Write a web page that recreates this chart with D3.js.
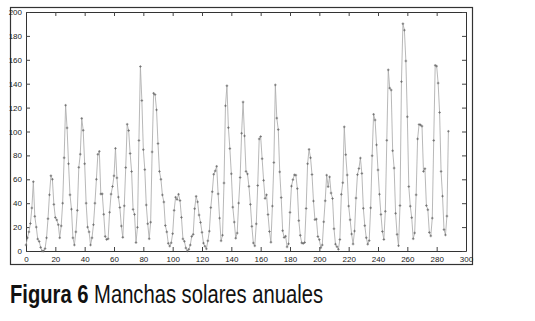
<!DOCTYPE html>
<html>
<head>
<meta charset="utf-8">
<script src="https://cdn.jsdelivr.net/npm/d3@7"></script>
<style>
  body { margin: 0; background: #fff; }
  svg { display: block; }
  .tick text { font-family: "Liberation Sans", Arial, sans-serif; font-size: 8px; fill: #222; }
</style>
</head>
<body>
<div id="chart"></div>
<script>
// yearly sunspot numbers, index 0 = 1700
var sunspots = [
  5, 11, 16, 23, 36, 58, 29, 20, 10, 8,
  3, 0, 0, 2, 11, 27, 47, 63, 60, 39,
  28, 26, 22, 11, 21, 40, 78, 122, 103, 73,
  47, 35, 11, 5, 16, 34, 70, 81, 111, 101,
  73, 40, 20, 16, 5, 11, 22, 40, 60, 80.9,
  83.4, 47.7, 47.8, 30.7, 12.2, 9.6, 10.2, 32.4, 47.6, 54,
  62.9, 85.9, 61.2, 45.1, 36.4, 20.9, 11.4, 37.8, 69.8, 106.1,
  100.8, 81.6, 66.5, 34.8, 30.6, 7, 19.8, 92.5, 154.4, 125.9,
  84.8, 68.1, 38.5, 22.8, 10.2, 24.1, 82.9, 132, 130.9, 118.1,
  89.9, 66.6, 60, 46.9, 41, 21.3, 16, 6.4, 4.1, 6.8,
  14.5, 34, 45, 43.1, 47.5, 42.2, 28.1, 10.1, 8.1, 2.5,
  0, 1.4, 5, 12.2, 13.9, 35.4, 45.8, 41.1, 30.1, 23.9,
  15.6, 6.6, 4, 1.8, 8.5, 16.6, 36.3, 49.6, 64.2, 67,
  70.9, 47.8, 27.5, 8.5, 13.2, 56.9, 121.5, 138.3, 103.2, 85.7,
  64.6, 36.7, 24.2, 10.7, 15, 40.1, 61.5, 98.5, 124.7, 96.3,
  66.6, 64.5, 54.1, 39, 20.6, 6.7, 4.3, 22.7, 54.8, 93.8,
  95.8, 77.2, 59.1, 44, 47, 30.5, 16.3, 7.3, 37.6, 74,
  139, 111.2, 101.6, 66.2, 44.7, 17, 11.3, 12.4, 3.4, 6,
  32.3, 54.3, 59.7, 63.7, 63.5, 52.2, 25.4, 13.1, 6.8, 6.3,
  7.1, 35.6, 73, 85.1, 78, 64, 41.8, 26.2, 26.7, 12.1,
  9.5, 2.7, 5, 24.4, 42, 63.5, 53.8, 62, 48.5, 43.9,
  18.6, 5.7, 3.6, 1.4, 9.6, 47.4, 57.1, 103.9, 80.6, 63.6,
  37.6, 26.1, 14.2, 5.8, 16.7, 44.3, 63.9, 69, 77.8, 64.9,
  35.7, 21.2, 11.1, 5.7, 8.7, 36.1, 79.7, 114.4, 109.6, 88.8,
  67.8, 47.5, 30.6, 16.3, 9.6, 33.2, 92.6, 151.6, 136.3, 134.7,
  83.9, 69.4, 31.5, 13.9, 4.4, 38, 141.7, 190.2, 184.8, 159,
  112.3, 53.9, 37.5, 27.9, 10.2, 15.1, 47, 93.8, 105.9, 105.5,
  104.5, 66.6, 68.9, 38, 34.5, 15.5, 12.6, 27.5, 92.5, 155.4,
  154.7, 140.5, 115.9, 66.6, 45.9, 17.9, 13.4, 29.2, 100.2
];
var xTicks = [0, 20, 40, 60, 80, 100, 120, 140, 160, 180, 200, 220, 240, 260, 280, 300];
var yTicks = [0, 20, 40, 60, 80, 100, 120, 140, 160, 180, 200];
var captionBold = "Figura 6";
var captionText = " Manchas solares anuales";

var width = 535, height = 321;
var svg = d3.select("#chart").append("svg")
    .attr("width", width)
    .attr("height", height);

// outer frame
svg.append("rect")
    .attr("x", 10.5).attr("y", 7.5)
    .attr("width", 462).attr("height", 257)
    .attr("fill", "none")
    .attr("stroke", "#333")
    .attr("stroke-width", 1.2);

var x = d3.scaleLinear().domain([0, 300]).range([26, 466]);
var y = d3.scaleLinear().domain([0, 200]).range([251, 12]);

// axes, ticks pointing inward like matlab
svg.append("g")
    .attr("transform", "translate(0," + y(0) + ")")
    .call(d3.axisBottom(x).tickValues(xTicks).tickSize(-4).tickPadding(5).tickSizeOuter(0));
svg.append("g")
    .attr("transform", "translate(0," + y(200) + ")")
    .call(d3.axisTop(x).tickValues(xTicks).tickSize(-4).tickFormat("").tickSizeOuter(0));
svg.append("g")
    .attr("transform", "translate(" + x(0) + ",0)")
    .call(d3.axisLeft(y).tickValues(yTicks).tickSize(-4).tickPadding(4).tickSizeOuter(0));
svg.append("g")
    .attr("transform", "translate(" + x(300) + ",0)")
    .call(d3.axisRight(y).tickValues(yTicks).tickSize(-4).tickFormat("").tickSizeOuter(0));
svg.selectAll(".domain").attr("stroke", "#333");
svg.selectAll(".tick line").attr("stroke", "#444");

var line = d3.line()
    .x(function(d, i) { return x(i); })
    .y(function(d) { return y(d); });

svg.append("path")
    .datum(sunspots)
    .attr("d", line)
    .attr("fill", "none")
    .attr("stroke", "#b0b0b0")
    .attr("stroke-width", 0.9);

// little + markers
svg.append("g").selectAll("path")
    .data(sunspots)
    .enter().append("path")
    .attr("d", function(d, i) {
      var px = x(i), py = y(d);
      return "M" + (px - 1.3) + "," + py + "H" + (px + 1.3) + "M" + px + "," + (py - 1.3) + "V" + (py + 1.3);
    })
    .attr("stroke", "#666")
    .attr("stroke-width", 0.7);

var cap = svg.append("text")
    .attr("transform", "translate(10,303) scale(1,1.3)")
    .attr("font-family", "Liberation Sans, Arial, sans-serif")
    .attr("font-size", 20.2)
    .attr("fill", "#111");
cap.append("tspan").attr("font-weight", "bold").text(captionBold);
cap.append("tspan").text(captionText);
</script>
</body>
</html>
